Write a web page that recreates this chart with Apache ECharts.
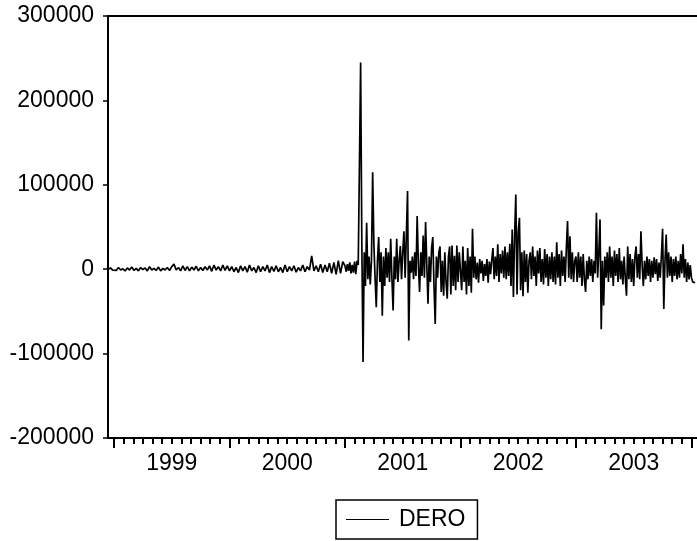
<!DOCTYPE html>
<html>
<head>
<meta charset="utf-8">
<title>DERO</title>
<script src="https://cdn.jsdelivr.net/npm/echarts@6/dist/echarts.min.js"></script>
<style>
  html, body { margin: 0; padding: 0; background: #fff; }
  #chart { width: 697px; height: 541px; }
</style>
</head>
<body>
<div id="chart"></div>
<script>
  // values, roughly weekly in the calm years and denser after the break
  var dero1998 = [0, 1500, -1000]
  var dero1999 = [1000, -1500, 2000, -1000, 500, -2000, 1500, -1000, 2500, -1500, 1000, -2000, 2000, -500, 1500, -2000,
    3000, -1000, 1000, -1500, 2500, -2000, 1000, -1000, 2000, -1500, 3000, 6000, -1000, 2000, -2000, 4000,
    -1500, 3000, -2000, 2500, -1000, 3500, -2000, 2000, -1500, 3000, -1000, 4000, -2500, 5000, -1000, 3000,
    -2000, 5000, -1500, 4000]
  var dero2000 = [-2000, 3000, -3000, 2000, -4000, 4000, -2000, 3000, -3500, 5000, -2000, 2000, -4000, 4000, -3000, 3000,
    -2000, 5000, -4000, 3000, -2500, 4000, -3000, 2000, -4000, 5000, -3000, 3000, -2000, 4000, -3500, 2000,
    -2000, 5000, -3000, 3000, -1000, 15700, -2000, 4000, -3000, 6000, -4000, 5000, -3000, 7000, -5000, 8000,
    -6000, 10000, -5000, 9000]
  var dero2001 = [4000, -3000, 6000, -2000, 8000, -5000, 5000, -4000, 9000, -6000, 10000, 5000,
    122000, 245000, 30000, -110000, 20000, -20000, 55000, -12000, 15000, -18000, 10000, 115000,
    30000, -10000, -45000, 10000, 38000, -15000, 20000, -55000, 15000, -20000, 25000, -10000,
    20000, -15000, 36000, -10000, -49000, 15000, -12000, 36000, -15000, 10000, 27500, -12000,
    20000, 45000, -10000, 40000, 92500, -84500, 10000, -4000, 15000, -12000, 20000, -8000,
    63000, 5000, -27000, 20000, -8000, 40000, -10000, 56000, 5000, -41000, 15000, -15000,
    25000, 38000, -20000, -65000, 15000, -10000, 20000, 27000, -27000, 10000, -31500, 20000,
    -15000, -35000, 15000, 27000, -30000, 28000, -20000, 16000, -25000, 28000, -15000, 20000]
  var dero2002 = [20000, -25000, 27000, -15000, 10000, -30000, 25000, -20000, 15000, -28000, 48000, -10000,
    15000, -12000, 8000, -16000, 12000, -5000, 10000, -14000, 6000, -8000, 12000, -16000,
    9000, -6000, 11000, 25000, -12000, 15000, -8000, 29500, -15000, 18000, -5000, 22000,
    -10000, 27000, -12000, 20000, -8000, 30000, -20000, 47000, -33000, 40000, 88500, -30000,
    45000, 61000, -25000, 20000, -32000, 22000, -15000, 18000, -28000, 10000, 20000, -12000,
    27000, -8000, 15000, -20000, 22000, -5000, 25000, -15000, 12000, -18000, 24000, -10000,
    18000, -20000, 15000, -12000, 20000, -15000, 15000, -18000, 32000, -10000, 18000, -20000,
    22000, -8000, 15000, -15000, 25000, 57000, -10000, 39000, -12000, 20000, -15000, 10000]
  var dero2003 = [15000, -15000, 20000, -10000, 15000, -20000, 18000, -12000, -27000, 10000, -12000, 15000,
    -8000, 12000, -15000, 10000, -5000, 67000, -10000, 20000, 59000, -71000, 10000, -43000,
    15000, -10000, 20000, -15000, 27000, -10000, 15000, -20000, 22000, -8000, 18000, -15000,
    25000, -12000, 10000, -18000, 15000, -10000, -31500, 27000, -12000, 18000, -15000, 12000,
    -20000, 15000, 27000, -10000, 18000, -12000, 45000, 5000, -20000, 10000, -12000, 15000,
    -8000, 12000, -15000, 10000, -10000, 14000, -6000, 12000, -14000, 8000, -10000, 15000,
    48000, -47000, 10000, 41000, -10000, 20000, -8000, 15000, -15000, 12000, -8000, 15000,
    -12000, 10000, -10000, 18000, -5000, 29500, -10000, 12000, -15000, 8000, -12000, 5000]
  var dero2004 = [-10000, -15000, -14000, -16000]

  var yearTicks = [1999, 2000, 2001, 2002, 2003, 2004]
  var yearLabels = [1999.5, 2000.5, 2001.5, 2002.5, 2003.5]

  var xMin = 1998.948
  var xMax = 2004.048
  var font = '"Liberation Sans", Arial, sans-serif'

  function toPoints(start, step, values) {
    return values.map(function (v, i) {
      return [start + i * step, v]
    })
  }

  var points = [].concat(
    toPoints(1998.95, 1 / 52, dero1998),
    toPoints(1999, 1 / 52, dero1999),
    toPoints(2000, 1 / 52, dero2000),
    toPoints(2001, 1 / 96, dero2001),
    toPoints(2002, 1 / 96, dero2002),
    toPoints(2003, 1 / 96, dero2003),
    toPoints(2004, 1 / 96, dero2004)
  )

  var monthTicks = []
  yearTicks.slice(0, 5).forEach(function (y) {
    for (var m = 1; m < 12; m++) monthTicks.push(y + m / 12)
  })

  var chart = echarts.init(document.getElementById('chart'))
  chart.setOption({
    animation: false,
    textStyle: { fontFamily: font },
    grid: { left: 108, right: 0, top: 16, bottom: 103 },
    legend: {
      data: ['DERO'],
      left: 336,
      top: 500,
      icon: 'rect',
      itemWidth: 43,
      itemHeight: 1,
      padding: [8, 12, 8, 10],
      borderColor: '#000',
      borderWidth: 1.5,
      textStyle: { fontSize: 23, color: '#000', padding: [0, 0, 0, 5] }
    },
    xAxis: [{
      type: 'value',
      min: xMin,
      max: xMax,
      position: 'bottom',
      splitLine: { show: false },
      axisLine: { onZero: false, lineStyle: { color: '#000', width: 2 } },
      axisTick: { customValues: yearTicks, length: 10, lineStyle: { color: '#000', width: 2 } },
      axisLabel: {
        customValues: yearLabels,
        fontSize: 23,
        color: '#000',
        margin: 14,
        formatter: function (v) {
          return String(Math.floor(v))
        }
      }
    }, {
      type: 'value',
      min: xMin,
      max: xMax,
      position: 'bottom',
      splitLine: { show: false },
      axisLine: { show: false, onZero: false },
      axisTick: { customValues: monthTicks, length: 6, lineStyle: { color: '#000', width: 2 } },
      axisLabel: { show: false }
    }, {
      type: 'value',
      min: xMin,
      max: xMax,
      position: 'top',
      splitLine: { show: false },
      axisLine: { onZero: false, lineStyle: { color: '#000', width: 2 } },
      axisTick: { show: false },
      axisLabel: { show: false }
    }],
    yAxis: {
      type: 'value',
      min: -200000,
      max: 300000,
      interval: 100000,
      splitLine: { show: false },
      axisLine: { show: true, onZero: false, lineStyle: { color: '#000', width: 2 } },
      axisTick: { show: true, length: 5, lineStyle: { color: '#000', width: 1.5 } },
      axisLabel: {
        fontSize: 23,
        color: '#000',
        margin: 14,
        formatter: function (v) {
          return String(v)
        }
      }
    },
    series: [{
      name: 'DERO',
      type: 'line',
      xAxisIndex: 0,
      symbol: 'none',
      data: points,
      itemStyle: { color: '#000' },
      lineStyle: { color: '#000', width: 1.7 }
    }]
  })
</script>
</body>
</html>
